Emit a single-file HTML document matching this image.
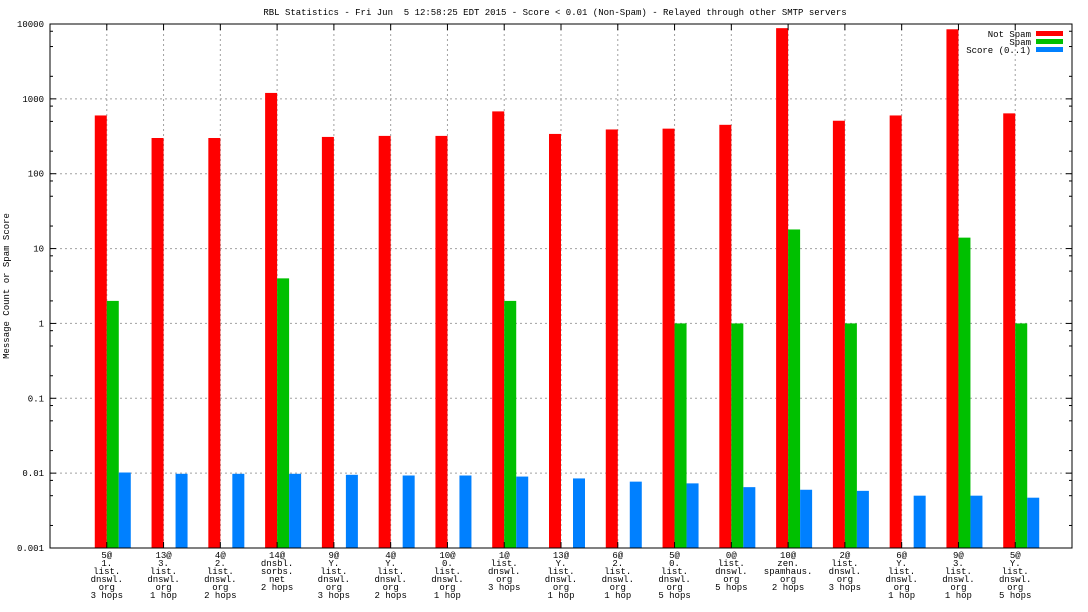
<!DOCTYPE html>
<html><head><meta charset="utf-8"><style>
body{margin:0;background:#fff}
svg{display:block;font-family:"Liberation Mono","DejaVu Sans Mono",monospace;font-size:9px}
</style></head><body>
<svg id="chart" width="1088" height="612" viewBox="0 0 1088 612" xmlns="http://www.w3.org/2000/svg">
<rect width="1088" height="612" fill="#fff"/>
<text x="555" y="15" text-anchor="middle" style="white-space:pre">RBL Statistics - Fri Jun  5 12:58:25 EDT 2015 - Score &lt; 0.01 (Non-Spam) - Relayed through other SMTP servers</text>
<text transform="translate(9,286) rotate(-90)" text-anchor="middle">Message Count or Spam Score</text>
<g id="grid"></g><g id="bars"></g><g id="axes"></g>
<g>
<text x="1031" y="37" text-anchor="end">Not Spam</text><rect x="1036" y="31" width="27" height="5" fill="#ff0000"/>
<text x="1031" y="45" text-anchor="end">Spam</text><rect x="1036" y="39" width="27" height="5" fill="#00c000"/>
<text x="1031" y="53" text-anchor="end">Score (0..1)</text><rect x="1036" y="47" width="27" height="5" fill="#0080ff"/>
</g>
</svg>
<script>
const categories=[["5@","1.","list.","dnswl.","org","3 hops"],["13@","3.","list.","dnswl.","org","1 hop"],["4@","2.","list.","dnswl.","org","2 hops"],["14@","dnsbl.","sorbs.","net","2 hops"],["9@","Y.","list.","dnswl.","org","3 hops"],["4@","Y.","list.","dnswl.","org","2 hops"],["10@","0.","list.","dnswl.","org","1 hop"],["1@","list.","dnswl.","org","3 hops"],["13@","Y.","list.","dnswl.","org","1 hop"],["6@","2.","list.","dnswl.","org","1 hop"],["5@","0.","list.","dnswl.","org","5 hops"],["0@","list.","dnswl.","org","5 hops"],["10@","zen.","spamhaus.","org","2 hops"],["2@","list.","dnswl.","org","3 hops"],["6@","Y.","list.","dnswl.","org","1 hop"],["9@","3.","list.","dnswl.","org","1 hop"],["5@","Y.","list.","dnswl.","org","5 hops"]];
const notSpam=[600,300,300,1200,310,320,320,680,340,390,400,450,8800,510,600,8500,640];
const spam=[2,0,0,4,0,0,0,2,0,0,1,1,18,1,0,14,1];
const score=[0.0102,0.0098,0.0098,0.0098,0.0095,0.0093,0.0093,0.009,0.0085,0.0077,0.0073,0.0065,0.006,0.0058,0.005,0.005,0.0047];
const yTicks=[10000,1000,100,10,1,0.1,0.01,0.001];
const yTickLabels=["10000","1000","100","10","1","0.1","0.01","0.001"];
const NS="http://www.w3.org/2000/svg";
const L=50,R=1072,T=24,B=548,minV=0.001,maxV=10000;
function y(v){return T+(Math.log10(maxV)-Math.log10(v))/(Math.log10(maxV)-Math.log10(minV))*(B-T);}
const step=(R-L)/(categories.length+1);
function x(i){return L+step*(i+1);}
function mk(tag,attrs,parent){const e=document.createElementNS(NS,tag);for(const k in attrs)e.setAttribute(k,attrs[k]);parent.appendChild(e);return e;}
const grid=document.getElementById('grid'),bars=document.getElementById('bars'),axes=document.getElementById('axes');
yTicks.forEach((v,i)=>{
  const yy=y(v);
  if(i>0&&i<yTicks.length-1){const g=mk('line',{x1:L,x2:R,y1:yy,y2:yy,stroke:'#a0a0a0','stroke-dasharray':'2,3'},grid);
  
  }
  const t=mk('text',{x:44,y:yy+3,'text-anchor':'end'},axes);t.textContent=yTickLabels[i];
  
  
  mk('line',{x1:L,x2:L+6,y1:yy,y2:yy,stroke:'#000'},axes);
  mk('line',{x1:R,x2:R-6,y1:yy,y2:yy,stroke:'#000'},axes);
  if(i<yTicks.length-1){[8,5,2].forEach(m=>{const my=y(v/10*m);
    mk('line',{x1:L,x2:L+3,y1:my,y2:my,stroke:'#000'},axes);
    mk('line',{x1:R,x2:R-3,y1:my,y2:my,stroke:'#000'},axes);});}
});
const bw=12;
categories.forEach((c,i)=>{
  const cx=x(i);
  const g=mk('line',{x1:cx,x2:cx,y1:T,y2:B,stroke:'#a0a0a0','stroke-dasharray':'2,3'},grid);
  
  
  mk('line',{x1:cx,x2:cx,y1:B,y2:B-6,stroke:'#000'},axes);
  mk('line',{x1:cx,x2:cx,y1:T,y2:T+6,stroke:'#000'},axes);
  const series=[[notSpam[i],'#ff0000',-bw,'bar-not-spam'],[spam[i],'#00c000',0,'bar-spam'],[score[i],'#0080ff',bw,'bar-score']];
  series.forEach(s=>{
    if(s[0]>minV){const yy=y(s[0]);
      const r=mk('rect',{x:cx,y:yy,width:bw,height:B-yy,fill:s[1]},bars);
      if(s[2]<0)r.setAttribute('x',cx-bw);else if(s[2]==0)r.setAttribute('x',cx);else r.setAttribute('x',cx+bw);
      
      }
  });
  c.forEach((ln,j)=>{const t=mk('text',{x:cx,y:558+j*8,'text-anchor':'middle'},axes);t.textContent=ln;
    
    });
});
const fr=mk('rect',{x:L,y:T,width:R-L,height:B-T,fill:'none',stroke:'#000','stroke-width':1},axes);


</script>
</body></html>
